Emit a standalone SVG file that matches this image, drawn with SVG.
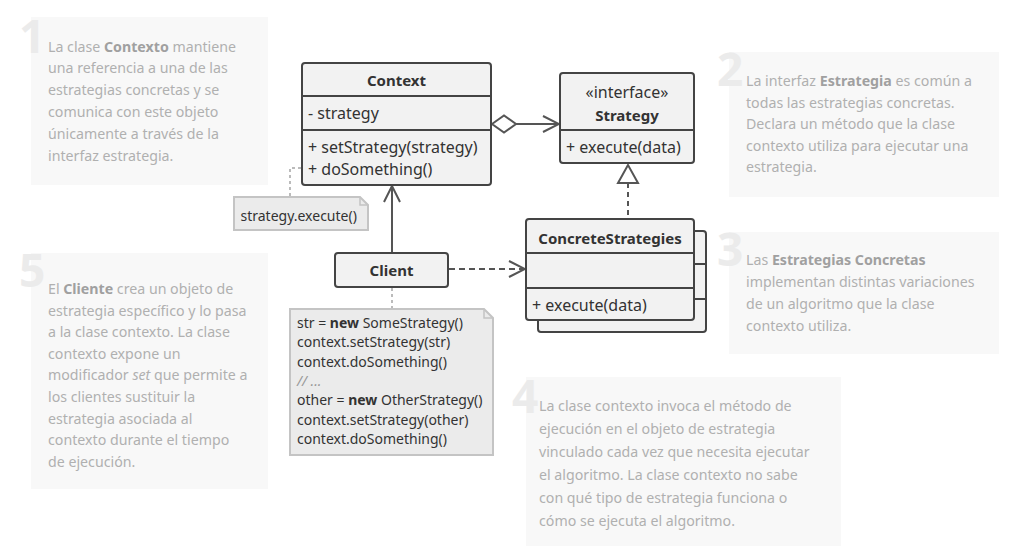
<svg xmlns="http://www.w3.org/2000/svg" width="1021" height="552" viewBox="0 0 1021 552">
<defs>
<marker id="open" viewBox="0 0 20 20" refX="18" refY="10" markerWidth="20" markerHeight="20" markerUnits="userSpaceOnUse" orient="auto">
<path d="M2,2 L18,10 L2,18" fill="none" stroke="#555" stroke-width="2"/>
</marker>
</defs>
<style>
.panel{fill:#f8f8f8}
.num{font-family:"Noto Sans",sans-serif;font-weight:bold;font-size:46px;fill:#ebebeb}
.pt{font-family:"Noto Sans",sans-serif;font-size:14.2px;fill:#b0b0b0}
.pt .b{font-weight:bold;fill:#a0a0a0}
.pt .i{font-style:italic}
.box{fill:#f2f2f2;stroke:#444;stroke-width:2}
.div{stroke:#444;stroke-width:2}
.t{font-family:"Noto Sans",sans-serif;font-size:16px;fill:#333}
.h{font-family:"Noto Sans",sans-serif;font-size:15px;font-weight:bold;fill:#333;text-anchor:middle}
.note{fill:#ebebeb;stroke:#c4c4c4;stroke-width:2}
.nt{font-family:"Noto Sans",sans-serif;font-size:14px;fill:#333}
.nt .b{font-weight:bold}
.nt .c{fill:#999;font-style:italic}
.con{fill:none;stroke:#555;stroke-width:2}
.dot{fill:none;stroke:#bbb;stroke-width:2;stroke-dasharray:3,3}
</style>

<g id="panel1">
<rect class="panel" x="31" y="17" width="237" height="168"/>
<text class="num" x="19" y="53">1</text>
<text class="pt"><tspan x="48" y="51.5">La clase <tspan class="b">Contexto</tspan> mantiene</tspan><tspan x="48" y="73.3">una referencia a una de las</tspan><tspan x="48" y="95.1">estrategias concretas y se</tspan><tspan x="48" y="116.9">comunica con este objeto</tspan><tspan x="48" y="138.7">únicamente a través de la</tspan><tspan x="48" y="160.5">interfaz estrategia.</tspan></text>
</g>

<g id="panel2">
<rect class="panel" x="729" y="52" width="270" height="145"/>
<text class="num" x="717" y="86">2</text>
<text class="pt"><tspan x="746" y="86">La interfaz <tspan class="b">Estrategia</tspan> es común a</tspan><tspan x="746" y="107.6">todas las estrategias concretas.</tspan><tspan x="746" y="129.2">Declara un método que la clase</tspan><tspan x="746" y="150.8">contexto utiliza para ejecutar una</tspan><tspan x="746" y="172.4">estrategia.</tspan></text>
</g>

<g id="panel3">
<rect class="panel" x="729" y="232" width="270" height="122"/>
<text class="num" x="717" y="266">3</text>
<text class="pt"><tspan x="746" y="265">Las <tspan class="b">Estrategias Concretas</tspan></tspan><tspan x="746" y="287">implementan distintas variaciones</tspan><tspan x="746" y="309">de un algoritmo que la clase</tspan><tspan x="746" y="331">contexto utiliza.</tspan></text>
</g>

<g id="panel4">
<rect class="panel" x="526" y="377" width="315" height="169"/>
<text class="num" x="512" y="413">4</text>
<text class="pt"><tspan x="539" y="411">La clase contexto invoca el método de</tspan><tspan x="539" y="434">ejecución en el objeto de estrategia</tspan><tspan x="539" y="457">vinculado cada vez que necesita ejecutar</tspan><tspan x="539" y="480">el algoritmo. La clase contexto no sabe</tspan><tspan x="539" y="503">con qué tipo de estrategia funciona o</tspan><tspan x="539" y="526">cómo se ejecuta el algoritmo.</tspan></text>
</g>

<g id="panel5">
<rect class="panel" x="31" y="253" width="237" height="236"/>
<text class="num" x="19" y="287">5</text>
<text class="pt"><tspan x="48" y="294">El <tspan class="b">Cliente</tspan> crea un objeto de</tspan><tspan x="48" y="315.6">estrategia específico y lo pasa</tspan><tspan x="48" y="337.2">a la clase contexto. La clase</tspan><tspan x="48" y="358.8">contexto expone un</tspan><tspan x="48" y="380.4">modificador <tspan class="i">set</tspan> que permite a</tspan><tspan x="48" y="402">los clientes sustituir la</tspan><tspan x="48" y="423.6">estrategia asociada al</tspan><tspan x="48" y="445.2">contexto durante el tiempo</tspan><tspan x="48" y="466.8">de ejecución.</tspan></text>
</g>

<g id="connectors">
<path class="dot" d="M301,168 H290 V197"/>
<path class="dot" d="M392,288 V309"/>
<path class="con" d="M392,253 V186" marker-end="url(#open)"/>
<path class="con" d="M516,124 H559" marker-end="url(#open)"/>
<path d="M492,124 L504,115.5 L516,124 L504,132.5 Z" fill="#fff" stroke="#555" stroke-width="2"/>
<path class="con" d="M628,183 V218" stroke-dasharray="5,4"/>
<path d="M628,165 L618,183 L638,183 Z" fill="#fff" stroke="#555" stroke-width="2"/>
<path class="con" d="M449,269 H525" stroke-dasharray="6,4" marker-end="url(#open)"/>
</g>

<g id="context">
<rect class="box" x="302" y="63" width="189" height="122" rx="3"/>
<line class="div" x1="302" y1="96" x2="491" y2="96"/>
<line class="div" x1="302" y1="130" x2="491" y2="130"/>
<text class="h" x="396.5" y="85.5">Context</text>
<text class="t" x="308" y="119">- strategy</text>
<text class="t" x="308" y="153">+ setStrategy(strategy)</text>
<text class="t" x="308" y="175">+ doSomething()</text>
</g>

<g id="strategy">
<rect class="box" x="560" y="73" width="134" height="90" rx="3"/>
<line class="div" x1="560" y1="130" x2="694" y2="130"/>
<text class="t" x="627" y="98" text-anchor="middle">«interface»</text>
<text class="h" x="627" y="121">Strategy</text>
<text class="t" x="566" y="153">+ execute(data)</text>
</g>

<g id="concrete">
<rect class="box" x="538" y="231" width="168" height="101" rx="3"/>
<line class="div" x1="538" y1="264" x2="706" y2="264"/>
<line class="div" x1="538" y1="299" x2="706" y2="299"/>
<rect class="box" x="526" y="219" width="168" height="101" rx="3"/>
<line class="div" x1="526" y1="253" x2="694" y2="253"/>
<line class="div" x1="526" y1="288" x2="694" y2="288"/>
<text class="h" x="610" y="244">ConcreteStrategies</text>
<text class="t" x="532" y="311">+ execute(data)</text>
</g>

<g id="client">
<rect class="box" x="335" y="253" width="113" height="34" rx="3"/>
<text class="h" x="391.5" y="275.5">Client</text>
</g>

<g id="note1">
<path class="note" d="M234,197 H360 L368,205 V230 H234 Z"/>
<path d="M360,197 V205 H368" fill="none" stroke="#c4c4c4" stroke-width="1.5"/>
<text class="nt" x="240.5" y="221">strategy.execute()</text>
</g>

<g id="note2">
<path class="note" d="M290,309 H484 L493,318 V455 H290 Z"/>
<path d="M484,309 V318 H493" fill="none" stroke="#c4c4c4" stroke-width="1.5"/>
<text class="nt"><tspan x="297" y="328">str = <tspan class="b">new</tspan> SomeStrategy()</tspan><tspan x="297" y="347.3">context.setStrategy(str)</tspan><tspan x="297" y="366.6">context.doSomething()</tspan><tspan x="297" y="385.9" class="c">// ...</tspan><tspan x="297" y="405.2">other = <tspan class="b">new</tspan> OtherStrategy()</tspan><tspan x="297" y="424.5">context.setStrategy(other)</tspan><tspan x="297" y="443.8">context.doSomething()</tspan></text>
</g>
</svg>
